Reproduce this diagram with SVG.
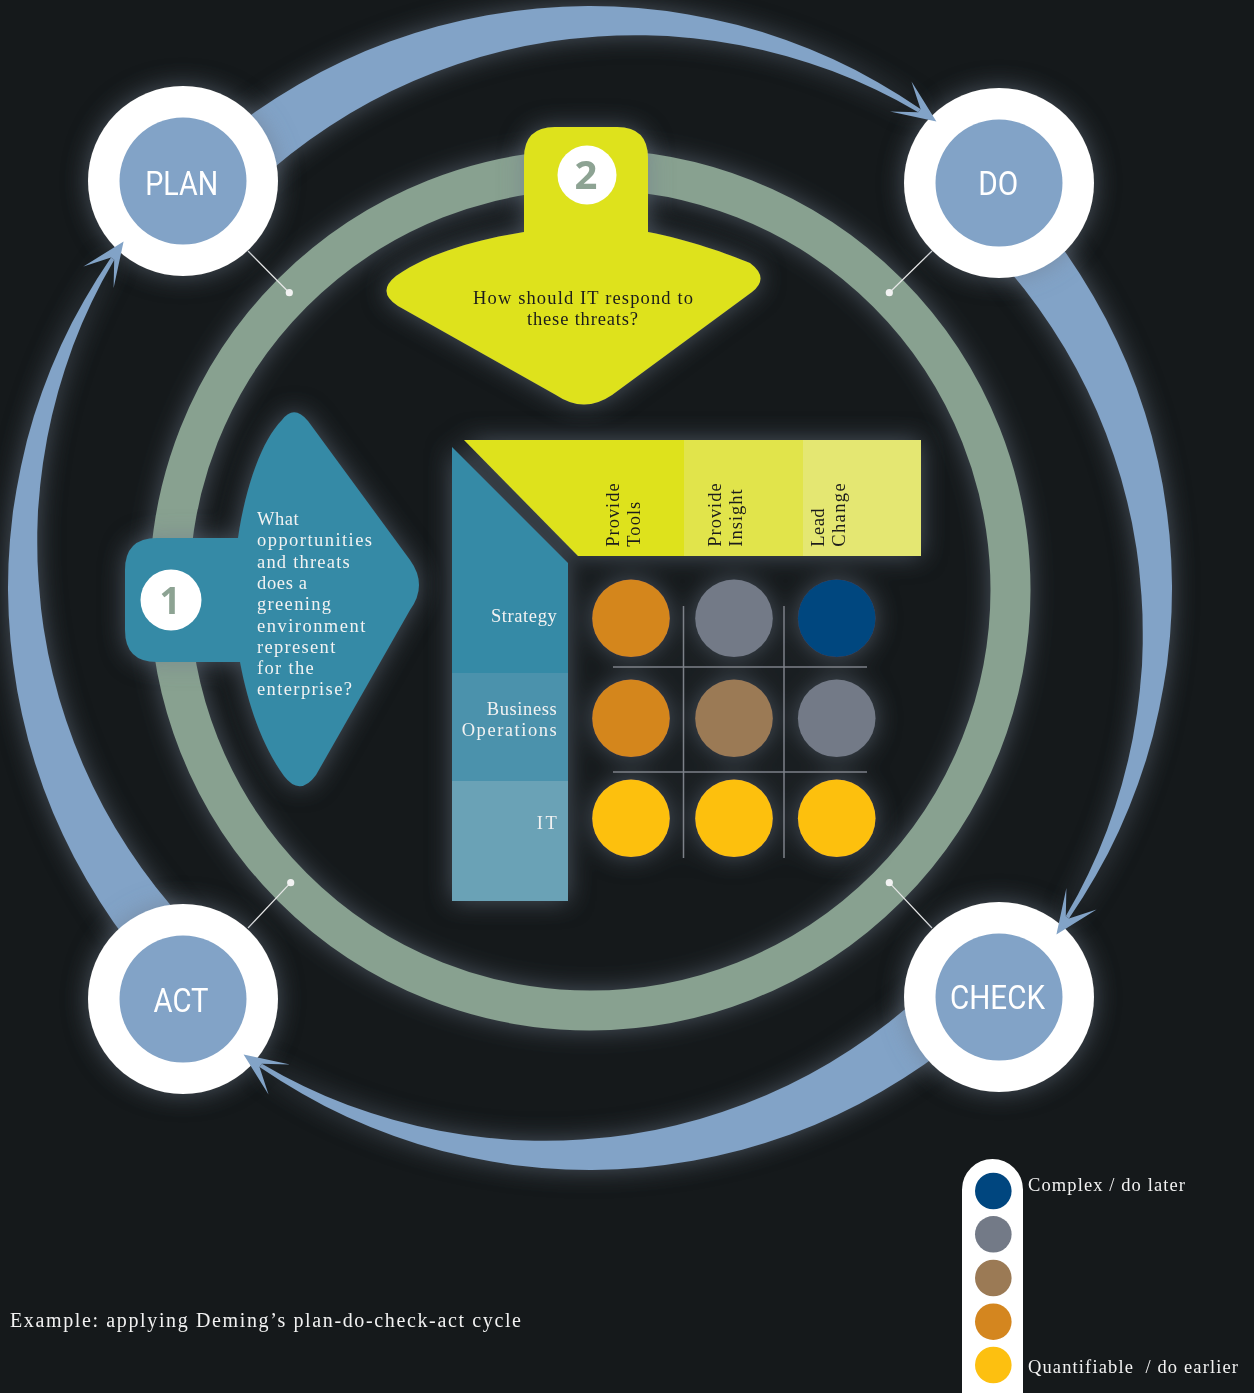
<svg xmlns="http://www.w3.org/2000/svg" xmlns:xlink="http://www.w3.org/1999/xlink" width="1254" height="1393" viewBox="0 0 1254 1393">
<defs>
  <filter id="glow" x="-30%" y="-30%" width="160%" height="160%">
    <feGaussianBlur in="SourceAlpha" stdDeviation="12" result="b"/>
    <feFlood flood-color="#6e7b8c" flood-opacity="0.6"/>
    <feComposite in2="b" operator="in" result="g"/>
    <feMerge><feMergeNode in="g"/><feMergeNode in="SourceGraphic"/></feMerge>
  </filter>
  <path id="band" d="M -411.5,-411.5 A 582 582 0 0 1 330.5,-479.0 L 328.2,-475.8 A 558.8 558.8 0 0 0 -369.1,-369.1 Z"/>
  <path id="head" d="M 330.5,-479.0 L 321.5,-506.6 L 346.4,-466.4 L 300.0,-476.4 L 328.2,-475.8 Z"/>
  <style>
    .bg { fill: #15191b; }
    .arc { fill: #82a3c7; }
    .ring { fill: none; stroke: #88a190; stroke-width: 40; }
    .outer { fill: #ffffff; }
    .inner { fill: #82a3c7; }
    .lbl { font-family: Roboto, "Noto Sans", sans-serif; font-weight: normal; font-size: 33px; fill: #ffffff; text-anchor: middle; }
    .num { font-family: "Open Sans", "Noto Sans", sans-serif; font-weight: bold; font-size: 40px; fill: #8da393; text-anchor: middle; }
    .serif { font-family: "Liberation Serif", "DejaVu Serif", serif; font-size: 18.5px; }
    .dark { fill: #1c1c1a; }
    .light { fill: #f2f2f2; }
    .tick { stroke: #e8e8e8; stroke-width: 1.2; fill: none; }
    .dot { fill: #f2f2f2; }
    .grid { stroke: #7c8188; stroke-width: 1.5; }
  </style>
</defs>
<rect class="bg" x="0" y="0" width="1254" height="1393"/>

<g id="ring" filter="url(#glow)">
  <circle class="ring" cx="590" cy="590" r="420.5"/>
</g>

<g id="connectors">
  <g filter="url(#glow)" transform="translate(590,588)">
    <use xlink:href="#band" class="arc"/>
    <use xlink:href="#band" class="arc" transform="rotate(90)"/>
    <use xlink:href="#band" class="arc" transform="rotate(180)"/>
    <use xlink:href="#band" class="arc" transform="rotate(270)"/>
  </g>
  <line class="tick" x1="248" y1="251" x2="289" y2="292.5"/>
  <circle class="dot" cx="289.3" cy="292.7" r="3.6"/>
  <line class="tick" x1="932" y1="251" x2="889.3" y2="292.7"/>
  <circle class="dot" cx="889.3" cy="292.7" r="3.6"/>
  <line class="tick" x1="889.3" y1="882.7" x2="932" y2="928"/>
  <circle class="dot" cx="889.3" cy="882.7" r="3.6"/>
  <line class="tick" x1="290.7" y1="882.7" x2="248" y2="928"/>
  <circle class="dot" cx="290.7" cy="882.7" r="3.6"/>
</g>

<g id="node-plan" filter="url(#glow)">
  <circle class="outer" cx="183" cy="181" r="95"/>
  <circle class="inner" cx="183" cy="181" r="63.5"/>
  <text class="lbl" x="181.7" y="194.5" textLength="73" lengthAdjust="spacingAndGlyphs">PLAN</text>
</g>
<g id="node-do" filter="url(#glow)">
  <circle class="outer" cx="999" cy="183" r="95"/>
  <circle class="inner" cx="999" cy="183" r="63.5"/>
  <text class="lbl" x="998.3" y="194.5" textLength="40" lengthAdjust="spacingAndGlyphs">DO</text>
</g>
<g id="node-check" filter="url(#glow)">
  <circle class="outer" cx="999" cy="997" r="95"/>
  <circle class="inner" cx="999" cy="997" r="63.5"/>
  <text class="lbl" x="997.5" y="1008.5" textLength="95" lengthAdjust="spacingAndGlyphs">CHECK</text>
</g>
<g id="node-act" filter="url(#glow)">
  <circle class="outer" cx="183" cy="999" r="95"/>
  <circle class="inner" cx="183" cy="999" r="63.5"/>
  <text class="lbl" x="181" y="1011.5" textLength="55" lengthAdjust="spacingAndGlyphs">ACT</text>
</g>

<g id="connector-heads" transform="translate(590,588)">
  <use xlink:href="#head" class="arc"/>
  <use xlink:href="#head" class="arc" transform="rotate(90)"/>
  <use xlink:href="#head" class="arc" transform="rotate(180)"/>
  <use xlink:href="#head" class="arc" transform="rotate(270)"/>
</g>

<g id="step-2" filter="url(#glow)">
  <path fill="#dee21f" d="M 524,232 L 524,158 Q 524,127 555,127 L 617,127 Q 648,127 648,158 L 648,232 C 690,240 728,254 750,263 Q 770,278 752,292 L 612,395 Q 584,414 556,395 L 398,306 Q 376,292 396,276 C 430,252 480,239 524,232 Z"/>
  <circle cx="587" cy="175" r="29.5" fill="#ffffff"/>
  <text class="num" x="586" y="189">2</text>
  <text class="serif dark" x="473" y="304" textLength="220" lengthAdjust="spacing">How should IT respond to</text>
  <text class="serif dark" x="527" y="325" textLength="111" lengthAdjust="spacing">these threats?</text>
</g>

<g id="step-1" filter="url(#glow)">
  <path fill="#348aa6" d="M 238,538 C 246,485 262,440 282,420 Q 294,404 308,421 L 410,560 Q 428,585 410,610 L 316,775 Q 300,797 284,776 C 262,745 248,705 240,662 L 157,662 Q 125,662 125,630 L 125,570 Q 125,538 157,538 Z"/>
  <circle cx="171" cy="600" r="30.5" fill="#ffffff"/>
  <text class="num" x="170" y="613.5" style="font-size:37px">1</text>
  <text class="serif light" x="257" y="525" textLength="41.6" lengthAdjust="spacing">What</text>
  <text class="serif light" x="257" y="546.3" textLength="115" lengthAdjust="spacing">opportunities</text>
  <text class="serif light" x="257" y="567.6" textLength="92.7" lengthAdjust="spacing">and threats</text>
  <text class="serif light" x="257" y="588.9" textLength="50" lengthAdjust="spacing">does a</text>
  <text class="serif light" x="257" y="610.2" textLength="74" lengthAdjust="spacing">greening</text>
  <text class="serif light" x="257" y="631.5" textLength="108.3" lengthAdjust="spacing">environment</text>
  <text class="serif light" x="257" y="652.8" textLength="78.3" lengthAdjust="spacing">represent</text>
  <text class="serif light" x="257" y="674.1" textLength="56.7" lengthAdjust="spacing">for the</text>
  <text class="serif light" x="257" y="695.4" textLength="95" lengthAdjust="spacing">enterprise?</text>
</g>

<g id="matrix" filter="url(#glow)">
  <g id="row-headers">
    <polygon fill="#348aa6" points="452,447 568,563 568,673 452,673"/>
    <rect fill="#4c92ac" x="452" y="673" width="116" height="108"/>
    <rect fill="#6ba2b6" x="452" y="781" width="116" height="120"/>
    <text class="serif light" x="491" y="621.7" textLength="65.7" lengthAdjust="spacing">Strategy</text>
    <text class="serif light" x="486.7" y="715" textLength="70" lengthAdjust="spacing">Business</text>
    <text class="serif light" x="461.7" y="735.5" textLength="95" lengthAdjust="spacing">Operations</text>
    <text class="serif light" x="536.7" y="829" textLength="20" lengthAdjust="spacing">IT</text>
  </g>
  <g id="col-headers">
    <polygon fill="#dee21f" points="464,440 684,440 684,556 578,556"/>
    <rect fill="#e1e44c" x="684" y="440" width="119" height="116"/>
    <rect fill="#e4e772" x="803" y="440" width="118" height="116"/>
    <text class="serif dark" transform="translate(619,546.7) rotate(-90)" textLength="63.3" lengthAdjust="spacing">Provide</text>
    <text class="serif dark" transform="translate(640,546.7) rotate(-90)" textLength="45" lengthAdjust="spacing">Tools</text>
    <text class="serif dark" transform="translate(721,546.7) rotate(-90)" textLength="63.3" lengthAdjust="spacing">Provide</text>
    <text class="serif dark" transform="translate(742,546.7) rotate(-90)" textLength="57.4" lengthAdjust="spacing">Insight</text>
    <text class="serif dark" transform="translate(824,546.7) rotate(-90)" textLength="38.3" lengthAdjust="spacing">Lead</text>
    <text class="serif dark" transform="translate(845,546.7) rotate(-90)" textLength="63.3" lengthAdjust="spacing">Change</text>
  </g>
  <g id="grid">
    <line class="grid" x1="683.5" y1="606" x2="683.5" y2="858"/>
    <line class="grid" x1="784" y1="606" x2="784" y2="858"/>
    <line class="grid" x1="613" y1="667" x2="867" y2="667"/>
    <line class="grid" x1="613" y1="772" x2="867" y2="772"/>
  </g>
  <g id="cells">
    <circle cx="631" cy="618.3" r="38.8" fill="#d4861f"/>
    <circle cx="734" cy="618.3" r="38.8" fill="#737a87"/>
    <circle cx="836.7" cy="618.3" r="38.8" fill="#00467f"/>
    <circle cx="631" cy="718.3" r="38.8" fill="#d4861f"/>
    <circle cx="734" cy="718.3" r="38.8" fill="#9b7a55"/>
    <circle cx="836.7" cy="718.3" r="38.8" fill="#737a87"/>
    <circle cx="631" cy="818.3" r="38.8" fill="#fdc010"/>
    <circle cx="734" cy="818.3" r="38.8" fill="#fdc010"/>
    <circle cx="836.7" cy="818.3" r="38.8" fill="#fdc010"/>
  </g>
</g>

<g id="legend">
  <rect x="962" y="1159" width="61" height="270" rx="30.5" fill="#ffffff"/>
  <circle cx="993.3" cy="1191" r="18.3" fill="#00467f"/>
  <circle cx="993.3" cy="1234.3" r="18.3" fill="#737a87"/>
  <circle cx="993.3" cy="1278" r="18.3" fill="#9b7a55"/>
  <circle cx="993.3" cy="1321.7" r="18.3" fill="#d4861f"/>
  <circle cx="993.3" cy="1365" r="18.3" fill="#fdc010"/>
  <text class="serif light" x="1028" y="1191" textLength="157" lengthAdjust="spacing">Complex / do later</text>
  <text class="serif light" x="1028" y="1373.3" textLength="210" lengthAdjust="spacing" xml:space="preserve">Quantifiable  / do earlier</text>
</g>

<g id="caption">
  <text class="serif light" x="10" y="1327" style="font-size:20px" textLength="511" lengthAdjust="spacing">Example: applying Deming’s plan-do-check-act cycle</text>
</g>
</svg>
